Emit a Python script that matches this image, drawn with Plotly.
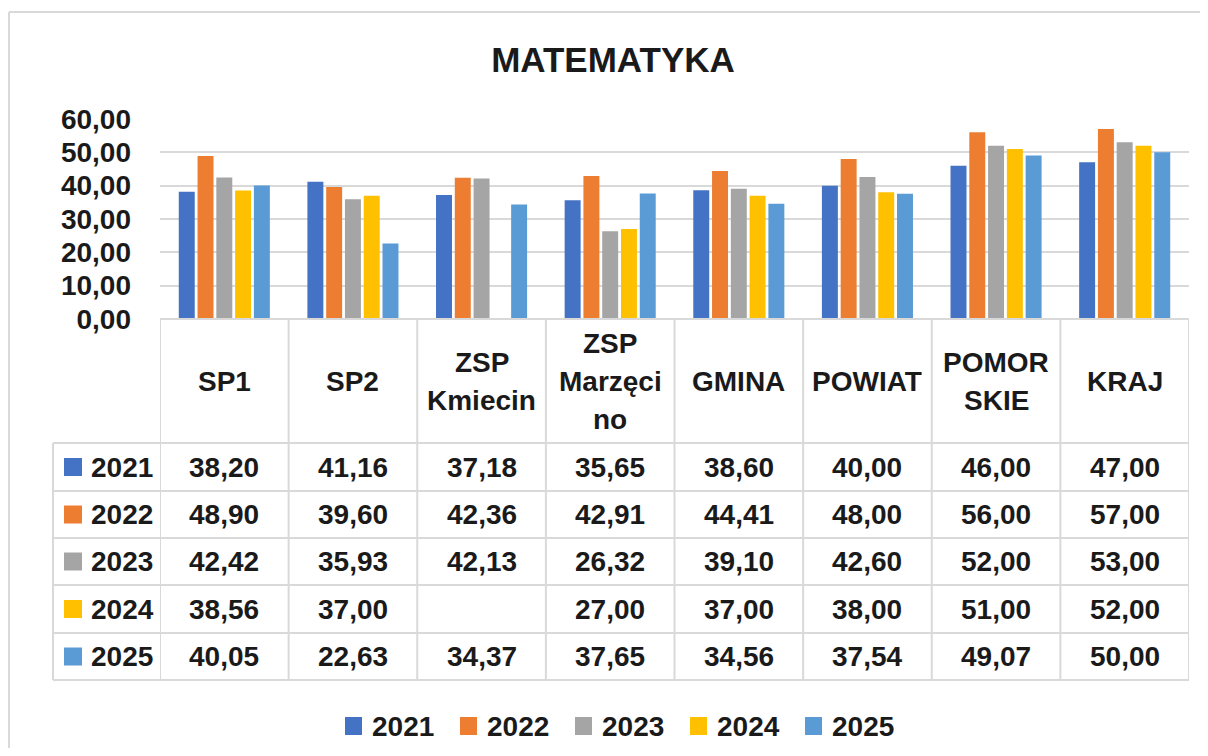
import plotly.graph_objects as go

# ---------------- data ----------------
categories = ["SP1", "SP2", "ZSP Kmiecin", "ZSP Marzęcino", "GMINA", "POWIAT", "POMORSKIE", "KRAJ"]
header_lines = [["SP1"], ["SP2"], ["ZSP", "Kmiecin"], ["ZSP", "Marzęci", "no"],
                ["GMINA"], ["POWIAT"], ["POMOR", "SKIE"], ["KRAJ"]]
years = ["2021", "2022", "2023", "2024", "2025"]
v2021 = [38.20, 41.16, 37.18, 35.65, 38.60, 40.00, 46.00, 47.00]
v2022 = [48.90, 39.60, 42.36, 42.91, 44.41, 48.00, 56.00, 57.00]
v2023 = [42.42, 35.93, 42.13, 26.32, 39.10, 42.60, 52.00, 53.00]
v2024 = [38.56, 37.00, None, 27.00, 37.00, 38.00, 51.00, 52.00]
v2025 = [40.05, 22.63, 34.37, 37.65, 34.56, 37.54, 49.07, 50.00]
series = [v2021, v2022, v2023, v2024, v2025]
colors = ["#4472C4", "#ED7D31", "#A5A5A5", "#FFC000", "#5B9BD5"]
title_text = "MATEMATYKA"

# ---------------- layout geometry (page pixels) ----------------
PAGE_W, PAGE_H = 1208, 756
OFF = 8                       # default body margin of the html page
FW, FH = PAGE_W - OFF, PAGE_H - 2 * OFF
PAPER_BOTTOM = OFF + FH       # page y of paper bottom
L, R = 160, 1189              # plot area left/right (page px)
T, B = 119, 319               # plot area top/bottom (60 and 0)
FONT = "Liberation Sans, Arial, sans-serif"
TXT = "#1a1a1a"
GRID = "#D9D9D9"
FS = 28

def py(y):
    return (PAPER_BOTTOM - y) / (PAPER_BOTTOM - T)

def pxp(x):
    return (x - L) / (R - L)

n = len(categories)
xs = list(range(n))

fig = go.Figure()
for name, vals, col in zip(years, series, colors):
    fig.add_trace(go.Bar(x=xs, y=vals, name=name, marker_color=col,
                         marker_line_width=0, showlegend=False))

shapes = []
annotations = []

# outer chart border (top and left edges visible in the reference)
shapes.append(dict(type="line", xref="paper", yref="paper",
                   x0=pxp(9), x1=pxp(1240), y0=py(12), y1=py(12),
                   line=dict(color=GRID, width=2), layer="below"))
shapes.append(dict(type="line", xref="paper", yref="paper",
                   x0=pxp(9), x1=pxp(9), y0=py(12), y1=py(800),
                   line=dict(color=GRID, width=2), layer="below"))

# table geometry
header_bottom = 443
row_lines = [443, 491, 538, 585, 633, 680]
table_left = 53

# axis line / table top
shapes.append(dict(type="line", xref="x", yref="paper", x0=-0.5, x1=n - 0.5,
                   y0=py(B), y1=py(B), line=dict(color=GRID, width=2)))
# vertical lines at category boundaries
for i in range(n + 1):
    shapes.append(dict(type="line", xref="x", yref="paper", x0=i - 0.5, x1=i - 0.5,
                       y0=py(B), y1=py(row_lines[-1]), line=dict(color=GRID, width=2)))
# left column vertical
shapes.append(dict(type="line", xref="paper", yref="paper", x0=pxp(table_left), x1=pxp(table_left),
                   y0=py(row_lines[0]), y1=py(row_lines[-1]), line=dict(color=GRID, width=2)))
# horizontal row lines
for yl in row_lines:
    shapes.append(dict(type="line", xref="paper", yref="paper", x0=pxp(table_left), x1=1,
                       y0=py(yl), y1=py(yl), line=dict(color=GRID, width=2)))

tfont = dict(family=FONT, size=FS, color=TXT, weight="bold")

# header text
hdr_mid = (B + header_bottom) / 2
line_h = 38
for i, lines in enumerate(header_lines):
    k = len(lines)
    for j, t in enumerate(lines):
        yc = hdr_mid + (j - (k - 1) / 2) * line_h
        annotations.append(dict(x=i, y=py(yc), xref="x", yref="paper", text=t,
                                showarrow=False, xanchor="center", yanchor="middle",
                                font=tfont))

# row contents
for r, (name, vals, col) in enumerate(zip(years, series, colors)):
    yc = (row_lines[r] + row_lines[r + 1]) / 2
    shapes.append(dict(type="rect", xref="paper", yref="paper",
                       x0=pxp(64), x1=pxp(82), y0=py(yc - 9), y1=py(yc + 9),
                       fillcolor=col, line=dict(width=0)))
    annotations.append(dict(x=pxp(89), y=py(yc), xref="paper", yref="paper", text=name,
                            showarrow=False, xanchor="left", yanchor="middle",
                            font=tfont))
    for i, v in enumerate(vals):
        if v is None:
            continue
        annotations.append(dict(x=i, y=py(yc), xref="x", yref="paper",
                                text=f"{v:.2f}".replace(".", ","),
                                showarrow=False, xanchor="center", yanchor="middle",
                                font=tfont))

# bottom legend
leg_y = 726
for k, (name, col) in enumerate(zip(years, colors)):
    x0 = 345 + 115 * k
    shapes.append(dict(type="rect", xref="paper", yref="paper",
                       x0=pxp(x0), x1=pxp(x0 + 17), y0=py(leg_y - 9), y1=py(leg_y + 9),
                       fillcolor=col, line=dict(width=0)))
    annotations.append(dict(x=pxp(x0 + 25), y=py(leg_y), xref="paper", yref="paper",
                            text=name, showarrow=False, xanchor="left", yanchor="middle",
                            font=tfont))

fig.update_layout(
    width=FW, height=FH,
    margin=dict(l=L - OFF, r=OFF + FW - R, t=T - OFF, b=0, pad=0, autoexpand=False),
    paper_bgcolor="white", plot_bgcolor="white",
    separators=", ",
    barmode="group", bargap=0.27, bargroupgap=0.15,
    title=dict(text=title_text, x=(613 - OFF) / FW, xref="container", xanchor="center",
               y=1 - (60 - OFF) / FH, yref="container", yanchor="middle",
               font=dict(family=FONT, size=35, color=TXT, weight="bold")),
    xaxis=dict(range=[-0.5, n - 0.5], showticklabels=False, showgrid=False,
               zeroline=False, showline=False, ticks=""),
    yaxis=dict(domain=[py(B), 1], range=[0, 60], dtick=10, tickformat=".2f",
               showgrid=True, gridcolor=GRID, gridwidth=2, zeroline=False,
               showline=False, ticks="", ticklabelstandoff=28,
               tickfont=tfont),
    showlegend=False,
    shapes=shapes,
    annotations=annotations,
)

fig.write_html("out.html")
